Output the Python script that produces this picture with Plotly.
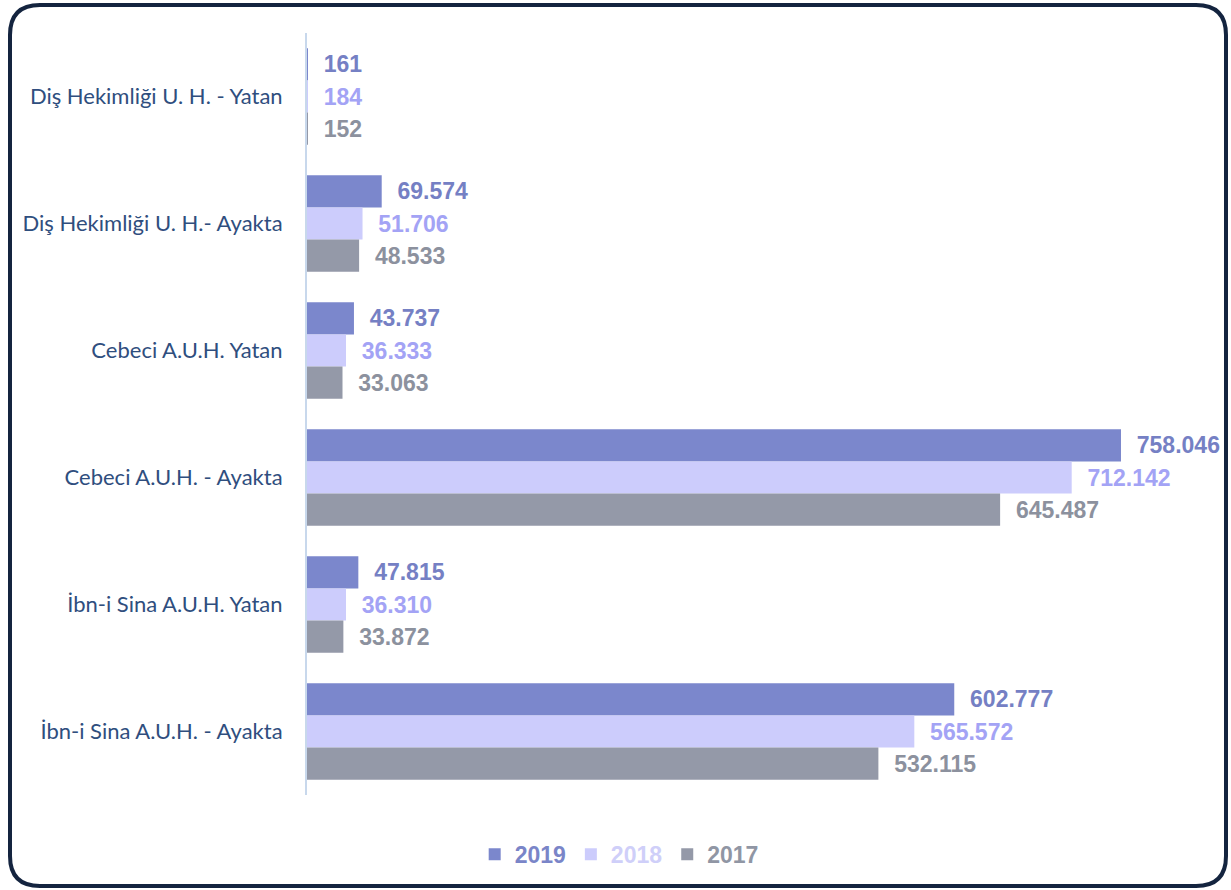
import plotly.graph_objects as go

categories = [
    "Diş Hekimliği U. H. - Yatan",
    "Diş Hekimliği U. H.- Ayakta",
    "Cebeci A.U.H. Yatan",
    "Cebeci A.U.H. - Ayakta",
    "İbn-i Sina A.U.H. Yatan",
    "İbn-i Sina A.U.H. - Ayakta",
]
series_names = ["2019", "2018", "2017"]
values_2019 = [161, 69574, 43737, 758046, 47815, 602777]
values_2018 = [184, 51706, 36333, 712142, 36310, 565572]
values_2017 = [152, 48533, 33063, 645487, 33872, 532115]

bar_colors = ["#7b87cc", "#ccccfc", "#9499a8"]
text_colors = ["#7580c4", "#a3a3f5", "#8c919e"]
legend_colors = ["#7a85c8", "#cfcff9", "#9096a4"]

W, H = 1231, 890
ML, MR, MT, MB = 307, 51, 33, 95

fig = go.Figure()
for name, vals, bc, tc, lc in zip(series_names, [values_2019, values_2018, values_2017],
                                  bar_colors, text_colors, legend_colors):
    fig.add_trace(go.Bar(
        y=categories, x=vals, orientation="h",
        name=f"<span style='color:{lc}'><b>{name}</b></span>",
        marker=dict(color=bc, line=dict(width=0)),
        texttemplate="\u00a0\u00a0%{x:,}",
        textposition="outside",
        cliponaxis=False,
        textfont=dict(family="Liberation Sans, Arial", size=23, color=tc, weight="bold"),
    ))

# rounded border in pixel coords converted to paper coords
pw, ph = W - ML - MR, H - MT - MB
def px(x):
    return (x - ML) / pw
def py(y):
    return (H - MB - y) / ph

x0, y0, x1, y1, r = 10, 5, 1226, 886, 30
pts = [
    f"M {px(x0 + r)},{py(y0)}",
    f"L {px(x1 - r)},{py(y0)}",
    f"Q {px(x1)},{py(y0)} {px(x1)},{py(y0 + r)}",
    f"L {px(x1)},{py(y1 - r)}",
    f"Q {px(x1)},{py(y1)} {px(x1 - r)},{py(y1)}",
    f"L {px(x0 + r)},{py(y1)}",
    f"Q {px(x0)},{py(y1)} {px(x0)},{py(y1 - r)}",
    f"L {px(x0)},{py(y0 + r)}",
    f"Q {px(x0)},{py(y0)} {px(x0 + r)},{py(y0)}",
    "Z",
]
fig.add_shape(type="path", path=" ".join(pts), xref="paper", yref="paper",
              line=dict(color="#14243f", width=4), layer="above")

fig.update_layout(
    width=W, height=H,
    margin=dict(l=ML, r=MR, t=MT, b=MB),
    paper_bgcolor="white", plot_bgcolor="white",
    barmode="group", bargap=0.24, bargroupgap=0,
    separators=",.",
    showlegend=True,
    legend=dict(orientation="h", xref="container", yref="container",
                x=0.503, xanchor="center", y=0.04, yanchor="middle",
                font=dict(family="Liberation Sans, Arial", size=23),
                traceorder="normal"),
    xaxis=dict(range=[0, 813000], visible=False, showgrid=False, zeroline=False),
    yaxis=dict(autorange="reversed", showgrid=False, zeroline=False,
               showline=True, linecolor="#c8d8ec", linewidth=2,
               ticks="", ticklabelstandoff=18,
               tickfont=dict(family="Lato, Noto Sans", size=22, color="#2f4e7e")),
)

fig.write_html("out.html", config={"displayModeBar": False},
               post_script="document.body.style.margin='0';")
